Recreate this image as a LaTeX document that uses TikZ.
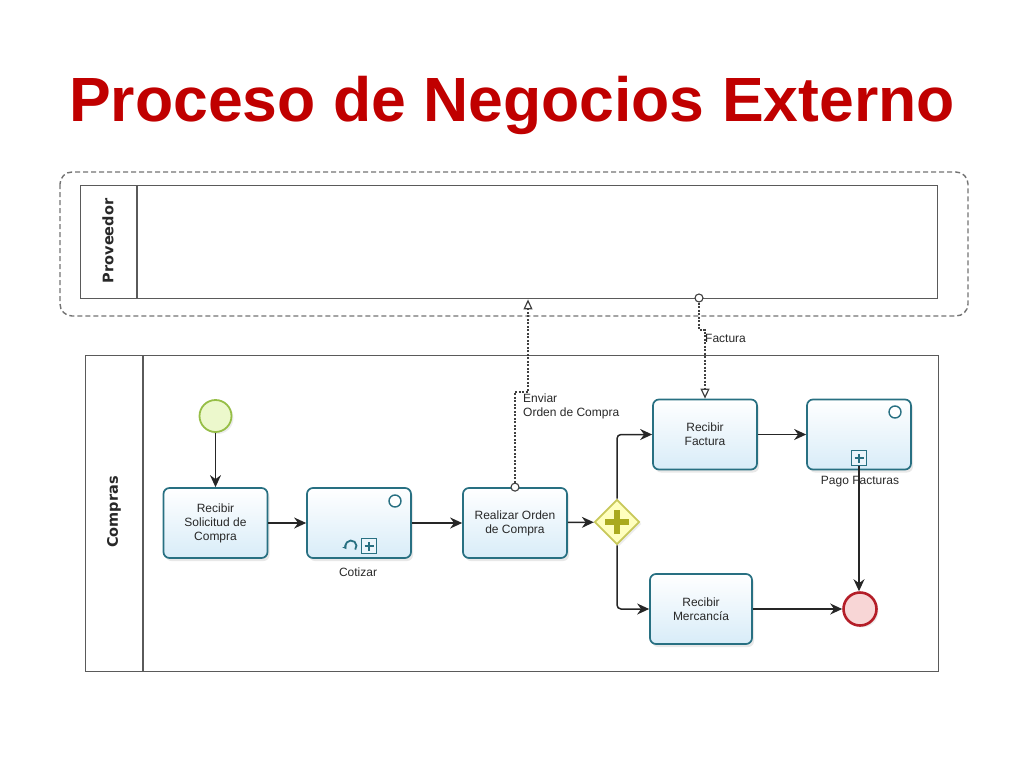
\documentclass[tikz,border=0pt]{standalone}
\usepackage{fontspec}
\setmainfont{Liberation Sans}
\newfontfamily\lanefont{DejaVu Sans}
\usetikzlibrary{arrows.meta,shapes.geometric,shadows,calc}
\definecolor{titlered}{RGB}{192,0,0}
\definecolor{taskborder}{RGB}{40,112,130}
\definecolor{taskfill}{RGB}{216,236,248}
\definecolor{gwfill}{RGB}{255,255,190}
\definecolor{gwborder}{RGB}{200,200,90}
\definecolor{gwplus}{RGB}{170,170,30}
\definecolor{startfill}{RGB}{236,248,204}
\definecolor{startborder}{RGB}{150,190,70}
\definecolor{endfill}{RGB}{248,214,214}
\definecolor{endborder}{RGB}{180,30,40}
\definecolor{poolline}{RGB}{90,90,90}
\definecolor{txt}{RGB}{40,40,40}
\tikzset{
  task/.style={draw=taskborder, line width=1.7pt, rounded corners=6pt,
    top color=white, bottom color=taskfill, minimum width=104pt, minimum height=70pt,
    align=center, font=\fontsize{12}{14}\selectfont, text=txt,
    drop shadow={opacity=0.18, shadow xshift=2pt, shadow yshift=-3pt}},
  pool/.style={draw=poolline, line width=1.4pt, anchor=north west, inner sep=0pt},
  lanelabel/.style={rotate=90, font=\lanefont\bfseries\fontsize{14.5}{16}\selectfont, text=txt},
  flow/.style={draw=black!85, line width=1.5pt, -{Stealth[length=12pt,width=11pt]}, rounded corners=4pt},
  msgflow/.style={draw=black!75, line width=1.2pt, dash pattern=on 2pt off 1.5pt},
  marker/.style={circle, draw=taskborder, line width=1.4pt, fill=white, minimum size=12pt, inner sep=0pt},
  plusbox/.style={draw=taskborder, line width=1.4pt, fill=taskfill!50, minimum size=15pt, inner sep=0pt},
  lbl/.style={font=\fontsize{12}{14}\selectfont, text=txt, inner sep=0pt},
}
\begin{document}
\begin{tikzpicture}[x=1pt,y=-1pt]
\useasboundingbox (0,0) rectangle (1024,768);
% title
\node[anchor=base, font=\bfseries\fontsize{62.5}{70}\selectfont, text=titlered] (title) at (512,121) {Proceso de Negocios Externo};
% outer dashed container
\draw[draw=black!55, line width=1.4pt, dash pattern=on 5pt off 3pt, rounded corners=12pt] (60,172) rectangle (968,316);
% pools
\node[pool, minimum width=857pt, minimum height=113pt] (prov) at (80,185) {};
\draw[draw=poolline, line width=1.4pt] ([xshift=57pt]prov.north west) -- ([xshift=57pt]prov.south west);
\node[lanelabel] (provlbl) at (108,241) {Proveedor};
\node[pool, minimum width=853pt, minimum height=316pt] (comp) at (85,355) {};
\draw[draw=poolline, line width=1.4pt] ([xshift=58pt]comp.north west) -- ([xshift=58pt]comp.south west);
\node[lanelabel] (complbl) at (114,512) {Compras};
% events
\node[circle, draw=startborder, fill=startfill, line width=1.8pt, minimum size=32pt, inner sep=0pt,
  drop shadow={opacity=0.15, shadow xshift=2pt, shadow yshift=-2pt}] (start) at (215.5,416) {};
\node[circle, draw=endborder, fill=endfill, line width=2.6pt, minimum size=33pt, inner sep=0pt,
  drop shadow={opacity=0.15, shadow xshift=2pt, shadow yshift=-2pt}] (endev) at (860,609) {};
% tasks
\node[task] (t1) at (215.5,523) {Recibir\\Solicitud de\\Compra};
\node[task] (t2) at (359,523) {};
\node[task] (t3) at (515,523) {Realizar Orden\\de Compra};
\node[task] (t4) at (705,434.5) {Recibir\\Factura};
\node[task] (t5) at (859,434.5) {};
\node[task, minimum width=102pt] (t6) at (701,609) {Recibir\\Mercancía};
% task labels
\node[lbl] (l2) at (358,572) {Cotizar};
\node[lbl] (l5) at (860,482) {Pago Facturas};
% markers for Cotizar
\node[marker] (c2) at (395,501) {};
\node[plusbox] (p2) at (369,546) {};
\draw[taskborder, line width=2.8pt] ([xshift=-4.5pt]p2.center) -- ([xshift=4.5pt]p2.center);
\draw[taskborder, line width=2.8pt] ([yshift=-4.5pt]p2.center) -- ([yshift=4.5pt]p2.center);
\coordinate (loopc) at (351,546);
\draw[taskborder, line width=1.8pt, -{Stealth[length=4pt,width=5pt]}] ([shift={(-40:5.5pt)}]loopc) arc[start angle=-40, end angle=215, radius=5.5pt];
% markers for Pago Facturas
\node[marker] (c5) at (895,412) {};
\node[plusbox] (p5) at (859,458) {};
\draw[taskborder, line width=2.8pt] ([xshift=-4.5pt]p5.center) -- ([xshift=4.5pt]p5.center);
\draw[taskborder, line width=2.8pt] ([yshift=-4.5pt]p5.center) -- ([yshift=4.5pt]p5.center);
% gateway
\node[diamond, draw=gwborder, fill=gwfill, line width=1.8pt, minimum width=45pt, minimum height=45pt, inner sep=0pt,
  drop shadow={opacity=0.15, shadow xshift=2pt, shadow yshift=-2pt}] (gw) at (617,522) {};
\draw[gwplus, line width=6.5pt] ([xshift=-12pt]gw.center) -- ([xshift=12pt]gw.center);
\draw[gwplus, line width=6.5pt] ([yshift=-12pt]gw.center) -- ([yshift=12pt]gw.center);
% sequence flows
\draw[flow] (start) -- (t1);
\draw[flow] (t1) -- (t2);
\draw[flow] (t2) -- (t3);
\draw[flow] (t3) -- (gw);
\draw[flow] (gw.north) |- (t4.west);
\draw[flow] (gw.south) |- (t6.west);
\draw[flow] (t4) -- (t5);
\draw[flow] (p5.south) -- (p5.south |- endev.north);
\draw[flow] (t6) -- (endev);
% message flows
\node[circle, draw=black!75, fill=white, line width=1.1pt, minimum size=8pt, inner sep=0pt] (c3) at (t3.north) {};
\coordinate (m1) at (528,392);
\draw[msgflow, -{Triangle[open, length=10pt, width=9pt, fill=white]}] (c3.north) |- (m1) -- (m1 |- prov.south);
\node[circle, draw=black!75, fill=white, line width=1.1pt, minimum size=8pt, inner sep=0pt] (fsrc) at (699,298) {};
\coordinate (m2) at (705,330);
\draw[msgflow, -{Triangle[open, length=10pt, width=9pt, fill=white]}] (fsrc.south) |- (m2) -- (t4.north);
\node[lbl, anchor=north west, align=left] (enviar) at (523,394) {Enviar\\Orden de Compra};
\node[lbl, anchor=west] (factura) at (705,338) {Factura};
\end{tikzpicture}
\end{document}
